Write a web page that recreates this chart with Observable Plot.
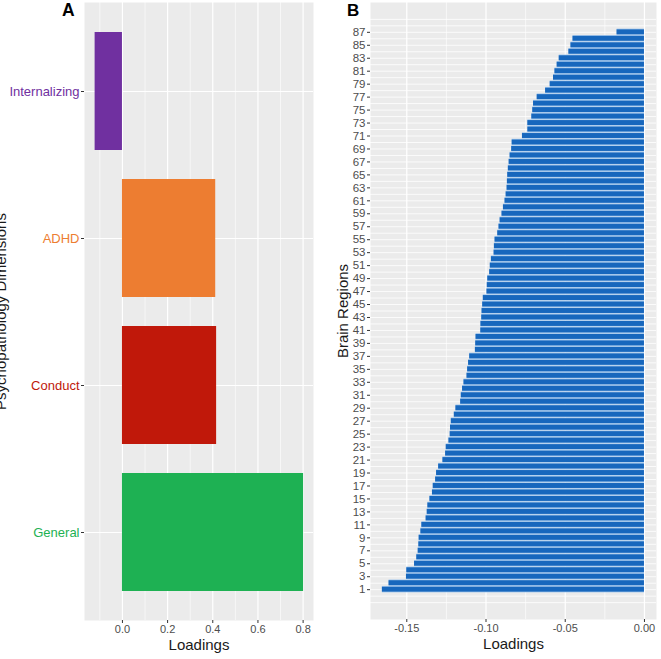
<!DOCTYPE html>
<html><head><meta charset="utf-8">
<script src="https://cdn.jsdelivr.net/npm/d3@7"></script>
<script src="https://cdn.jsdelivr.net/npm/@observablehq/plot@0.6"></script>
<style>
body{margin:0;background:#fff;}
#wrap{position:relative;width:661px;height:659px;overflow:hidden;font-family:"Liberation Sans",Arial,sans-serif;}
#a{position:absolute;left:0;top:0;}
#b{position:absolute;left:330px;top:0;}
.tag{position:absolute;font-weight:bold;color:#000;line-height:1;}
</style></head><body>
<div id="wrap"><div id="a"></div><div id="b"></div>
<div class="tag" style="left:62px;top:2px;font-size:17.5px">A</div>
<div class="tag" style="left:347px;top:2px;font-size:17px">B</div>
</div>
<script>
// Panel A data
const catA = ["Internalizing", "ADHD", "Conduct", "General"];
const loadA = [-0.121, 0.413, 0.417, 0.802];
const colA = ["#7030a0", "#ed7d31", "#c0180a", "#1eb153"];
const ticksA = [0.0, 0.2, 0.4, 0.6, 0.8];
const minorA = [-0.1, 0.1, 0.3, 0.5, 0.7];

// Panel B data (brain regions 1..87)
const loadB = [
  -0.1654, -0.1612, -0.1502, -0.1500, -0.1451, -0.1437, -0.1428, -0.1424, -0.1422, -0.1411,
  -0.1405, -0.1378, -0.1371, -0.1367, -0.1354, -0.1338, -0.1333, -0.1318, -0.1312, -0.1299,
  -0.1272, -0.1255, -0.1251, -0.1234, -0.1226, -0.1224, -0.1219, -0.1200, -0.1190, -0.1160,
  -0.1156, -0.1148, -0.1139, -0.1120, -0.1116, -0.1110, -0.1103, -0.1067, -0.1065, -0.1063,
  -0.1033, -0.1032, -0.1027, -0.1025, -0.1021, -0.1017, -0.0994, -0.0992, -0.0989, -0.0977,
  -0.0973, -0.0966, -0.0949, -0.0947, -0.0943, -0.0926, -0.0918, -0.0911, -0.0899, -0.0890,
  -0.0880, -0.0873, -0.0867, -0.0865, -0.0863, -0.0859, -0.0854, -0.0848, -0.0838, -0.0835,
  -0.0770, -0.0736, -0.0736, -0.0711, -0.0705, -0.0700, -0.0677, -0.0624, -0.0595, -0.0574,
  -0.0565, -0.0551, -0.0538, -0.0477, -0.0464, -0.0451, -0.0173
];
const regionsB = loadB.map((_, i) => i + 1);
const ticksBx = [-0.15, -0.10, -0.05, 0.00];
const minorBx = [-0.125, -0.075, -0.025];
const ticksBy = regionsB.filter(r => r % 2 === 1);
const gridBy = d3.range(-1, 90);

const dataA = catA.map((c, i) => ({cat: c, value: loadA[i], color: colA[i]}));
const colorOf = Object.fromEntries(catA.map((c, i) => [c, colA[i]]));
const dataB = regionsB.map((r, i) => ({region: r, value: loadB[i]}));

const font = "'Liberation Sans', Arial, Helvetica, sans-serif";
const titleFill = "#1a1a1a";

const plotA = Plot.plot({
  width: 330, height: 659,
  marginLeft: 84, marginRight: 17, marginTop: 2, marginBottom: 39,
  style: {fontFamily: font, fontSize: "11px", color: "#4d4d4d", background: "transparent", overflow: "visible"},
  x: {domain: [-0.168, 0.846]},
  y: {domain: catA, paddingInner: 0.2, paddingOuter: 0.2},
  color: {type: "identity"},
  marks: [
    Plot.frame({fill: "#ebebeb", stroke: "none"}),
    Plot.gridX({ticks: minorA, stroke: "white", strokeOpacity: 1, strokeWidth: 0.6}),
    Plot.gridX({ticks: ticksA, stroke: "white", strokeOpacity: 1, strokeWidth: 1.2}),
    Plot.gridY({stroke: "white", strokeOpacity: 1, strokeWidth: 1.2}),
    Plot.barX(dataA, {x: "value", y: "cat", fill: "color"}),
    Plot.axisX({ticks: ticksA, tickFormat: d => d.toFixed(1), tickSize: 3, tickPadding: 2, label: null, fontSize: 11, stroke: "#333"}),
    Plot.axisY({tickSize: 3, tickPadding: 2, label: null, fontSize: 13, stroke: "#333", fill: d => colorOf[d]}),
    Plot.text(["Loadings"], {text: d => d, frameAnchor: "bottom", dy: 24.5, lineAnchor: "middle", fontSize: 15, fill: titleFill}),
    Plot.text(["Psychopathology Dimensions"], {text: d => d, frameAnchor: "left", textAnchor: "middle", rotate: -90, dx: -89, lineAnchor: "top", fontSize: 15, fill: titleFill})
  ]
});
document.getElementById("a").append(plotA);

const plotB = Plot.plot({
  width: 331, height: 659,
  marginLeft: 40, marginRight: 5, marginTop: 2, marginBottom: 40,
  style: {fontFamily: font, fontSize: "11px", color: "#4d4d4d", background: "transparent"},
  x: {domain: [-0.1729, 0.0076]},
  y: {domain: [-3.6, 91.6]},
  marks: [
    Plot.frame({fill: "#ebebeb", stroke: "none"}),
    Plot.gridX({ticks: minorBx, stroke: "white", strokeOpacity: 1, strokeWidth: 0.6}),
    Plot.gridX({ticks: ticksBx, stroke: "white", strokeOpacity: 1, strokeWidth: 1.2}),
    Plot.gridY({ticks: gridBy, stroke: "white", strokeOpacity: 1, strokeWidth: 0.8}),
    Plot.rect(dataB, {x1: 0, x2: "value", y1: d => d.region - 0.5, y2: d => d.region + 0.5, fill: "#a9cbee"}),
    Plot.rect(dataB, {x1: 0, x2: "value", y1: d => d.region - 0.38, y2: d => d.region + 0.38, fill: "#1767bd"}),
    Plot.axisX({ticks: ticksBx, tickFormat: d => d.toFixed(2), tickSize: 3, tickPadding: 2, label: null, fontSize: 11, stroke: "#333"}),
    Plot.axisY({ticks: ticksBy, tickFormat: d => String(d), tickSize: 3, tickPadding: 2, label: null, fontSize: 11.5, stroke: "#333"}),
    Plot.text(["Loadings"], {text: d => d, frameAnchor: "bottom", dy: 24.5, lineAnchor: "middle", fontSize: 15, fill: titleFill}),
    Plot.text(["Brain Regions"], {text: d => d, frameAnchor: "left", textAnchor: "middle", rotate: -90, dx: -33.3, lineAnchor: "top", fontSize: 15, fill: titleFill})
  ]
});
document.getElementById("b").append(plotB);
</script>
</body></html>
